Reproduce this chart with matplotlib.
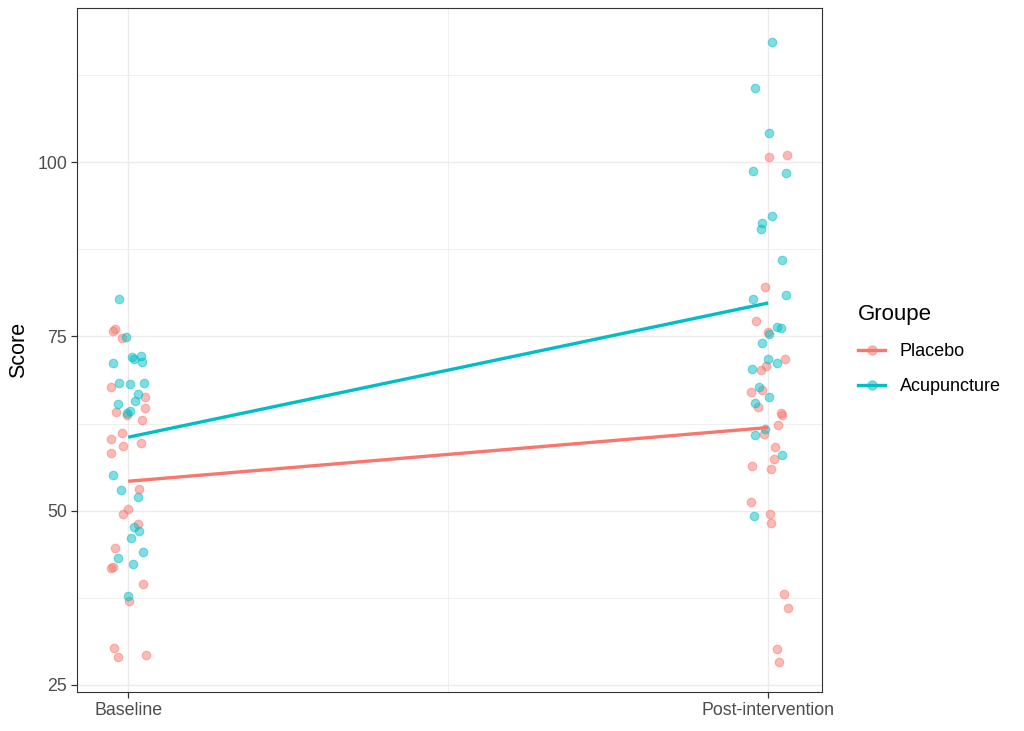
import numpy as np
import matplotlib
matplotlib.use("Agg")
import matplotlib.pyplot as plt
from matplotlib.lines import Line2D

plt.rcParams['font.family'] = ['Liberation Sans', 'DejaVu Sans']

# Categorie e gruppi
times = ["Baseline", "Post-intervention"]
groups = ["Placebo", "Acupuncture"]
colors = {"Placebo": "#F8766D", "Acupuncture": "#00BFC4"}

# Punteggi (con jitter orizzontale in unita' di categoria)
placebo_base = [76.1, 75.7, 74.8, 67.8, 66.3, 64.7, 64.2, 63.7, 63.0, 61.2, 60.3, 59.7, 59.3,
                58.3, 53.1, 50.3, 49.5, 48.1, 44.7, 41.8, 41.9, 39.5, 37.1, 30.3, 29.0, 29.3]
placebo_base_jit = [-0.020, -0.023, -0.009, -0.027, 0.027, 0.027, -0.019, -0.002, 0.022, -0.009,
                    -0.027, 0.020, -0.008, -0.027, 0.017, 0.000, -0.008, 0.016, -0.020, -0.027,
                    -0.023, 0.023, 0.002, -0.022, -0.016, 0.028]
acu_base = [80.4, 74.9, 71.2, 72.1, 71.8, 72.2, 71.3, 68.3, 68.2, 68.3, 66.8, 65.8, 65.3,
            64.0, 64.3, 55.1, 53.0, 52.0, 47.7, 47.1, 46.1, 44.1, 43.2, 42.4, 37.8]
acu_base_jit = [-0.014, -0.003, -0.023, 0.006, 0.009, 0.020, 0.022, -0.014, 0.003, 0.025,
                0.016, 0.011, -0.016, -0.002, 0.003, -0.023, -0.011, 0.016, 0.009, 0.017,
                0.005, 0.023, -0.016, 0.008, 0.000]
placebo_post = [100.7, 101.0, 82.1, 77.2, 75.6, 71.8, 70.8, 70.2, 67.3, 67.0, 64.9, 64.0, 63.7,
                62.3, 61.0, 59.1, 57.4, 56.4, 56.0, 51.2, 49.5, 48.2, 38.1, 36.0, 30.2, 28.3]
placebo_post_jit = [0.002, 0.030, -0.005, -0.019, 0.000, 0.027, -0.003, -0.012, -0.009, -0.027,
                    -0.016, 0.020, 0.022, 0.016, -0.006, 0.011, 0.009, -0.025, 0.005, -0.027,
                    0.003, 0.005, 0.025, 0.031, 0.013, 0.017]
acu_post = [117.2, 110.6, 104.2, 98.7, 98.4, 92.3, 91.3, 90.4, 86.0, 80.4, 80.9, 76.3, 76.2,
            75.3, 74.1, 71.8, 71.2, 70.3, 67.7, 66.3, 65.4, 61.7, 60.9, 58.0, 49.2]
acu_post_jit = [0.006, -0.020, 0.002, -0.023, 0.028, 0.006, -0.009, -0.011, 0.022, -0.023,
                0.028, 0.014, 0.020, 0.002, -0.009, 0.000, 0.014, -0.025, -0.014, 0.002,
                -0.020, -0.005, -0.020, 0.022, -0.022]

data = {
    "Placebo": [(placebo_base, placebo_base_jit), (placebo_post, placebo_post_jit)],
    "Acupuncture": [(acu_base, acu_base_jit), (acu_post, acu_post_jit)],
}

fig = plt.figure(figsize=(10.24, 7.31), dpi=100, facecolor='white')
ax = fig.add_axes([0.0752, 0.0534, 0.7275, 0.9357])
ax.set_facecolor('white')

# Griglia stile theme_bw
ax.set_xticks([1, 2])
ax.set_xticks([1.5], minor=True)
ax.set_yticks([25, 50, 75, 100])
ax.set_yticks([37.5, 62.5, 87.5, 112.5], minor=True)
ax.grid(True, which='major', color='#EBEBEB', linewidth=1.0)
ax.grid(True, which='minor', color='#EBEBEB', linewidth=0.55)
ax.set_axisbelow(True)

# Punti con jitter
for g in groups:
    for i, (vals, jit) in enumerate(data[g]):
        x = (i + 1) + np.array(jit)
        ax.scatter(x, vals, s=38, color=colors[g], alpha=0.5,
                   edgecolors=colors[g], linewidths=0.8, zorder=3)

# Linee delle medie
for g in groups:
    means = [np.mean(vals) for vals, _ in data[g]]
    ax.plot([1, 2], means, color=colors[g], linewidth=2.4, zorder=4,
            solid_capstyle='butt')

ax.set_xlim(0.92, 2.084)
ax.set_ylim(24.0, 122.1)
ax.set_xticklabels(times)
ax.tick_params(axis='both', which='major', length=4, width=0.9, color='#333333',
               labelsize=12.8, labelcolor='#4D4D4D', pad=3)
ax.tick_params(axis='both', which='minor', length=0)
for sp in ax.spines.values():
    sp.set_color('#333333')
    sp.set_linewidth(0.8)
ax.set_ylabel("Score", fontsize=15.5, labelpad=6)

# Legenda
handles = []
for g in groups:
    r, gg, b = matplotlib.colors.to_rgb(colors[g])
    handles.append(Line2D([0], [0], color=colors[g], linewidth=2.4, marker='o',
                          markersize=6.5, markerfacecolor=(r, gg, b, 0.5),
                          markeredgecolor=(r, gg, b, 0.5)))
leg = fig.legend(handles, groups, title="Groupe", loc='center left',
                 bbox_to_anchor=(0.822, 0.522), frameon=False, fontsize=13,
                 title_fontsize=16, handlelength=1.5, handletextpad=0.8,
                 labelspacing=1.0, alignment='left', numpoints=1)

fig.savefig("out.png", dpi=100, facecolor='white')
